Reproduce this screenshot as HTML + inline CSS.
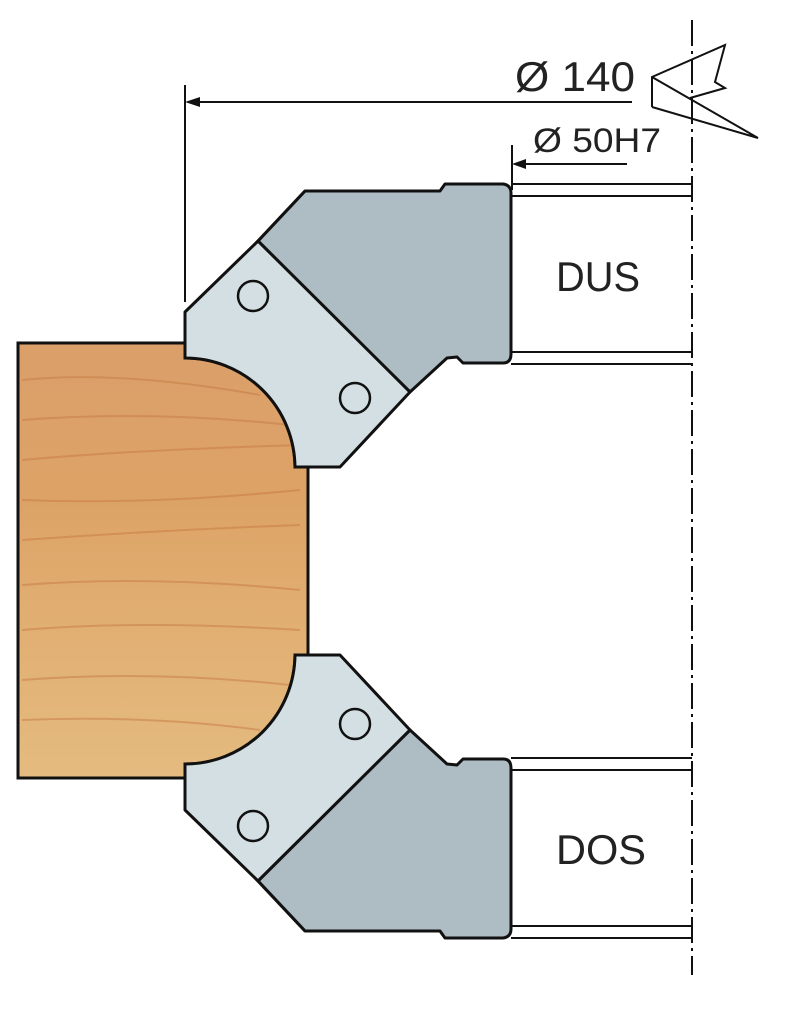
<!DOCTYPE html>
<html><head><meta charset="utf-8"><style>html,body{margin:0;padding:0;background:#fff}svg{display:block}</style></head><body>
<svg width="799" height="1024" viewBox="0 0 799 1024" xmlns="http://www.w3.org/2000/svg">
<defs>
<linearGradient id="w" x1="0" y1="0" x2="0" y2="1">
<stop offset="0" stop-color="#dba06a"/><stop offset="0.35" stop-color="#dca266"/><stop offset="0.6" stop-color="#e1ad70"/><stop offset="1" stop-color="#e4bb80"/>
</linearGradient>
<g id="cut">
<path d="M305,191 L440,191 L445,184 L503,184 Q511,185 511,193 L511,354 Q511,363 503,363 L463,363 L457,357 L447,358 L410,392 L258,241 Z" fill="#aebdc4" stroke="#111" stroke-width="3" stroke-linejoin="round"/>
<path d="M258,241 L185,312 L185,358 A110,110 0 0 1 295,467 L340,467 L410,392 Z" fill="#d4dfe3" stroke="#111" stroke-width="3" stroke-linejoin="round"/>
<path d="M305,191 L258,241" stroke="#111" stroke-width="3" fill="none"/>
<circle cx="253" cy="296" r="15" fill="none" stroke="#111" stroke-width="2.5"/>
<circle cx="355" cy="398" r="15" fill="none" stroke="#111" stroke-width="2.5"/>
<g stroke="#111" stroke-width="2" fill="none">
<line x1="511" y1="184" x2="692" y2="184"/><line x1="511" y1="196" x2="692" y2="196"/>
<line x1="511" y1="352" x2="692" y2="352"/><line x1="511" y1="364" x2="692" y2="364"/>
</g>
</g>
</defs>
<path d="M18,343 L185,343 L185,358 A110,110 0 0 1 295,467 L308,467 L308,655 L295,655 A110,110 0 0 1 185,764 L185,778 L18,778 Z" fill="url(#w)" stroke="#111" stroke-width="3"/>
<g stroke="#c77a45" stroke-width="2" opacity="0.5" fill="none">
<path d="M22,380 Q120,370 260,395"/><path d="M22,420 Q150,410 290,425"/><path d="M22,460 Q130,450 300,445"/>
<path d="M22,500 Q150,505 300,490"/><path d="M22,540 Q160,530 300,525"/><path d="M22,585 Q150,575 300,590"/>
<path d="M22,630 Q140,620 300,630"/><path d="M22,680 Q150,670 290,685"/><path d="M22,720 Q150,715 260,730"/>
</g>
<use href="#cut"/>
<use href="#cut" transform="translate(0,1122) scale(1,-1)"/>
<line x1="692" y1="20" x2="692" y2="975" stroke="#111" stroke-width="2" stroke-dasharray="26,5,3,5"/>
<g stroke="#111" stroke-width="2" fill="none">
<line x1="185" y1="85" x2="185" y2="302"/>
<line x1="195" y1="102" x2="632" y2="102"/>
<line x1="512" y1="145" x2="512" y2="190"/>
<line x1="522" y1="164" x2="627" y2="164"/>
<path d="M652,107 L652,77 L725,45 L715,82 L725,88 L690,98"/>
<path d="M652,77 L758,138 L652,107"/>
</g>
<path d="M185,102 L200,97 L200,107 Z" fill="#111"/>
<path d="M512,164 L526,159 L526,169 Z" fill="#111"/>
<g font-family="Liberation Sans, sans-serif" fill="#222">
<text x="515" y="91" font-size="42" textLength="120" lengthAdjust="spacingAndGlyphs">Ø 140</text>
<text x="533" y="152" font-size="34" textLength="128" lengthAdjust="spacingAndGlyphs">Ø 50H7</text>
<text x="556" y="291" font-size="42" textLength="84" lengthAdjust="spacingAndGlyphs">DUS</text>
<text x="556" y="864" font-size="42" textLength="90" lengthAdjust="spacingAndGlyphs">DOS</text>
</g>
</svg>
</body></html>
